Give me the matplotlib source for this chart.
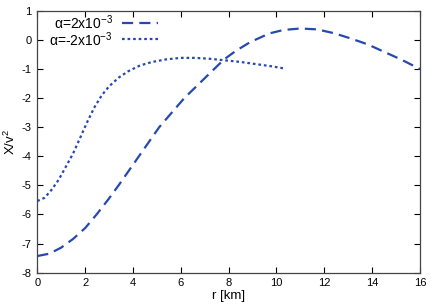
import matplotlib
matplotlib.use("Agg")
import matplotlib.pyplot as plt
import numpy as np

plt.rcParams["font.family"] = ["Liberation Sans", "DejaVu Sans"]
plt.rcParams["mathtext.fontset"] = "custom"
plt.rcParams["mathtext.rm"] = "Liberation Sans"
plt.rcParams["mathtext.it"] = "Liberation Sans:italic"
plt.rcParams["axes.unicode_minus"] = False

# alpha = 2e-3 (dashed)
r_pos = [0.0, 0.5, 1.0, 1.5, 2.0, 2.5, 3.0, 3.4, 4.25, 5.1, 6.15, 7.4, 7.8,
         8.3, 8.9, 9.7, 10.3, 11.0, 11.7, 12.4, 13.1, 13.8, 14.5, 15.2, 16.0]
x_pos = [-7.43, -7.35, -7.14, -6.84, -6.47, -5.98, -5.45, -5.0, -4.0, -3.0,
         -2.0, -1.0, -0.68, -0.38, -0.08, 0.22, 0.34, 0.39, 0.36, 0.23, 0.05,
         -0.15, -0.41, -0.67, -1.0]

# alpha = -2e-3 (dotted)
r_neg = [0.0, 0.3, 0.6, 0.9, 1.2, 1.5, 1.8, 2.1, 2.4, 2.7, 3.0, 3.4, 3.8,
         4.3, 4.8, 5.4, 6.0, 6.6, 7.2, 7.8, 8.5, 9.2, 9.8, 10.3]
x_neg = [-5.54, -5.43, -5.15, -4.8, -4.35, -3.9, -3.35, -2.8, -2.3, -1.9,
         -1.6, -1.3, -1.08, -0.88, -0.76, -0.67, -0.62, -0.62, -0.65, -0.70,
         -0.76, -0.84, -0.91, -0.98]

labels = ["α=2x10$^{-3}$", "α=-2x10$^{-3}$"]
xticks = np.arange(0, 17, 2)
yticks = np.arange(-8, 2, 1)

col = "#2748b0"
styles = [dict(dashes=(5, 2.8)), dict(dashes=(1.2, 1.3))]

fig = plt.figure(figsize=(4.36, 3.07), dpi=100)
ax = fig.add_axes([0.0856, 0.112, 0.963 - 0.0856, 0.965 - 0.112])

for (rr, xx), st in zip([(r_pos, x_pos), (r_neg, x_neg)], styles):
    ax.plot(rr, xx, color=col, lw=1.6, **st)

# gnuplot-style key: right-aligned text, sample to the right
for i, (lab, st) in enumerate(zip(labels, styles)):
    yk = 0.955 - i * 0.064
    ax.text(0.197, yk, lab, transform=ax.transAxes, ha="right", va="center",
            fontsize=10)
    ax.plot([0.221, 0.316], [yk, yk], transform=ax.transAxes, color=col,
            lw=1.6, **st)

ax.set_xlim(0, 16)
ax.set_ylim(-8, 1)
ax.set_xticks(xticks)
ax.set_yticks(yticks)
ax.tick_params(direction="in", top=True, right=True, length=4, width=0.8,
               labelsize=8, pad=4, colors="black")
for s in ax.spines.values():
    s.set_linewidth(0.9)
    s.set_color("#444444")

ax.set_xlabel("r [km]", fontsize=9.5, labelpad=1)
ax.set_ylabel("X/v$^2$", fontsize=9.5, labelpad=3)

fig.savefig("out.png", dpi=100)
